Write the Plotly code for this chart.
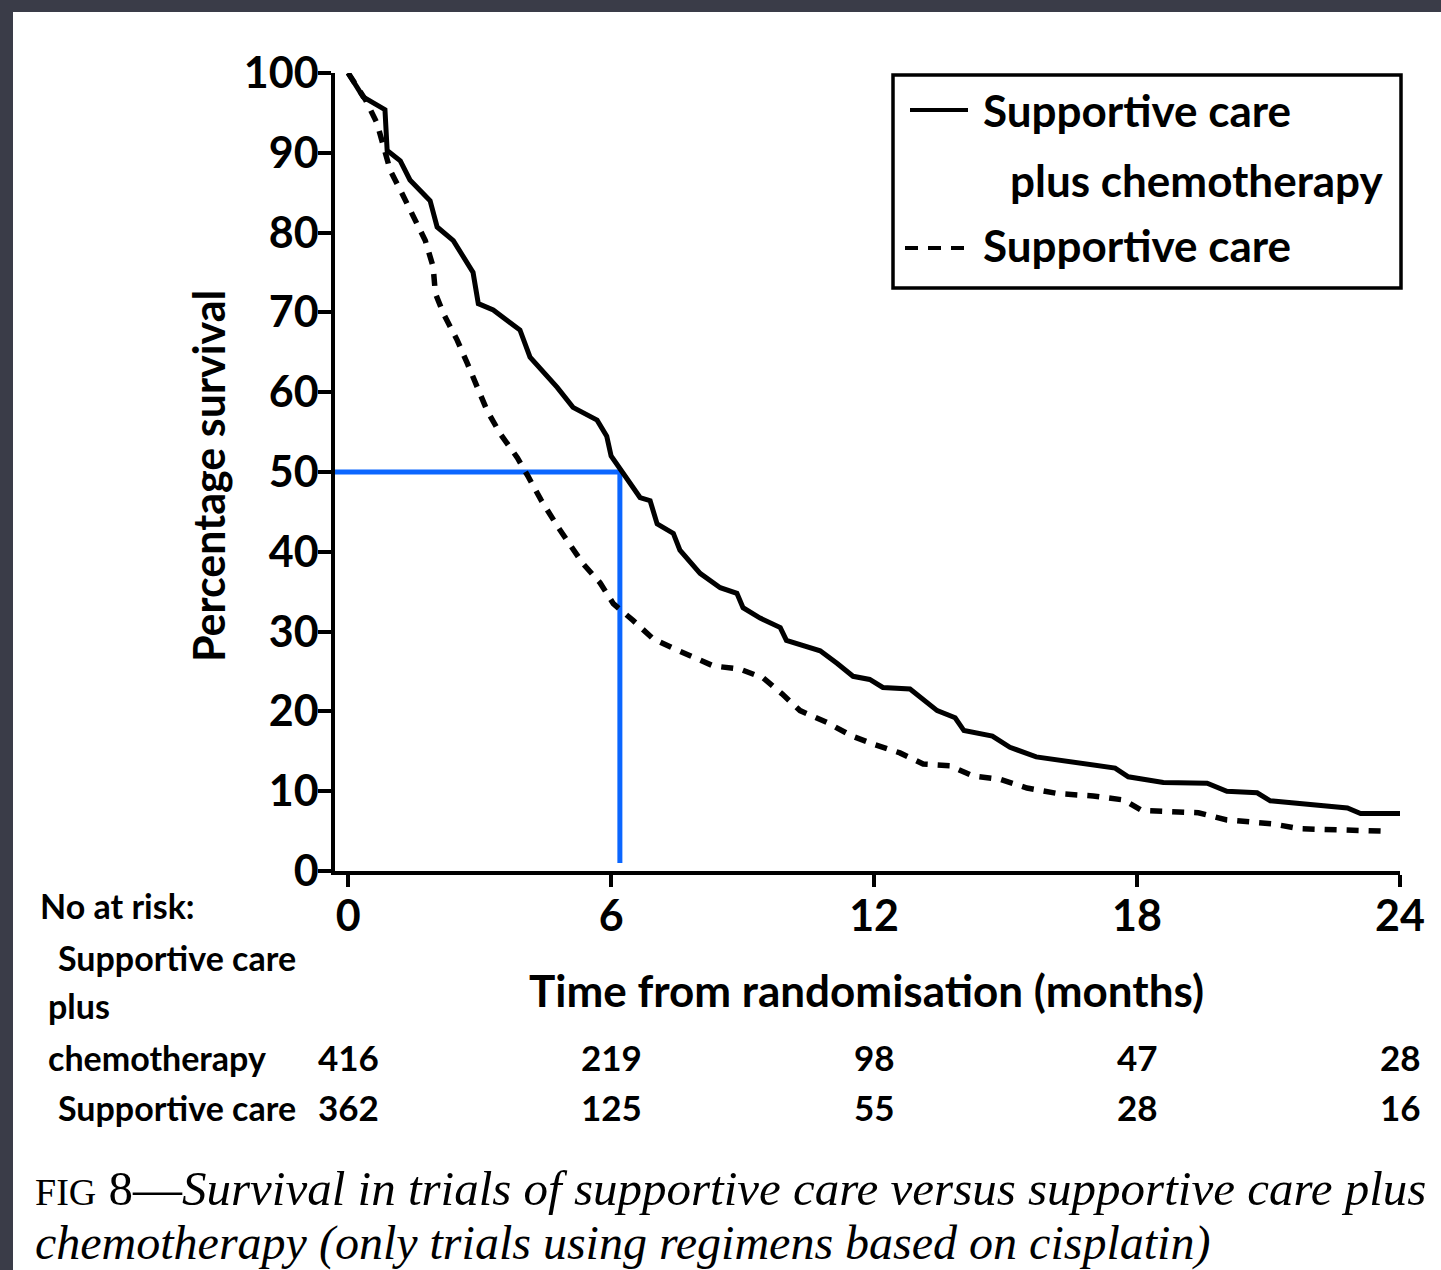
import plotly.graph_objects as go

# Kaplan-Meier survival estimates (months, % surviving)
chemo_months = [0, 0.34, 0.84, 0.89, 1.19, 1.41, 1.87, 2.03, 2.4, 2.85, 2.97, 3.31, 3.92, 4.15,
                4.77, 5.13, 5.68, 5.9, 6.0, 6.28, 6.66, 6.89, 7.05, 7.42, 7.57, 8.03, 8.49, 8.87,
                9.01, 9.4, 9.86, 10.0, 10.77, 11.16, 11.52, 11.9, 12.2, 12.82, 13.44, 13.85, 14.05,
                14.7, 15.1, 15.7, 16.63, 17.5, 17.8, 18.6, 19.6, 20.05, 20.74, 21.04, 22.8, 23.1, 24.0]
chemo_survival = [100, 97, 95.4, 90.3, 89, 86.6, 84, 80.7, 79, 75, 71.1, 70.3, 67.8, 64.4,
                  60.6, 58.1, 56.5, 54.5, 52, 49.8, 46.8, 46.4, 43.5, 42.3, 40.2, 37.3, 35.5, 34.8,
                  33, 31.7, 30.5, 28.9, 27.6, 26, 24.4, 24, 23, 22.8, 20.1, 19.2, 17.6,
                  16.9, 15.5, 14.3, 13.6, 12.9, 11.8, 11.1, 11.0, 10.0, 9.8, 8.8, 7.9, 7.2, 7.2]

care_months = [0, 0.4, 0.66, 0.96, 1.23, 1.49, 1.76, 1.94, 1.99, 2.17, 2.49, 2.72, 2.94, 3.17,
               3.47, 3.86, 4.1, 4.4, 4.8, 5.36, 5.75, 6.05, 6.5, 6.96, 7.42, 7.96, 8.33, 8.94,
               9.47, 9.9, 10.31, 10.93, 11.5, 11.98, 12.59, 13.12, 13.73, 14.26, 14.87, 15.49,
               16.2, 17.0, 17.7, 18.1, 18.75, 19.4, 20.05, 21.1, 21.7, 23.6]
care_survival = [100, 96.6, 93.7, 87.8, 84.9, 81.9, 79, 75.7, 72.4, 69.9, 66.5, 63.6, 60.6, 57.7,
                 54.8, 51.8, 49.5, 46.5, 43, 38.5, 36.1, 33.5, 31.4, 29.1, 27.9, 26.6, 25.7, 25.3,
                 24.2, 22.2, 20.1, 18.6, 16.9, 15.9, 14.8, 13.4, 13.2, 11.9, 11.5, 10.4,
                 9.7, 9.4, 8.9, 7.6, 7.4, 7.3, 6.4, 5.9, 5.3, 5.0]

# Median survival guide (chemotherapy arm)
median_months = [-0.3, 6.2, 6.2]
median_survival = [50, 50, 1]

# Numbers at risk table
risk_months = [0, 6, 12, 18, 24]
risk_chemo = [416, 219, 98, 47, 28]
risk_care = [362, 125, 55, 28, 16]

x_ticks = [0, 6, 12, 18, 24]
y_ticks = [0, 10, 20, 30, 40, 50, 60, 70, 80, 90, 100]

SANS = "Lato, sans-serif"
SERIF = "Liberation Serif, DejaVu Serif, serif"
INK = "black"

# plot-area geometry in pixels
W, H = 1441, 1270
L, R, T, B = 335, 1400, 73, 871


def fx(px):
    return (px - L) / (R - L)


def fy(py):
    return (B - py) / (B - T)


fig = go.Figure()

fig.add_trace(go.Scatter(
    x=median_months, y=median_survival, mode="lines",
    line=dict(color="#0b66ff", width=5), cliponaxis=False,
    showlegend=False, hoverinfo="skip"))

fig.add_trace(go.Scatter(
    x=chemo_months, y=chemo_survival, mode="lines",
    name="Supportive care plus chemotherapy",
    line=dict(color=INK, width=5), showlegend=False, cliponaxis=False))

fig.add_trace(go.Scatter(
    x=care_months, y=care_survival, mode="lines",
    name="Supportive care",
    line=dict(color=INK, width=5.5, dash="12px,10px"), showlegend=False, cliponaxis=False))

shapes = [
    # dark frame along the top and left edges
    dict(type="rect", xref="paper", yref="paper", x0=fx(0), x1=fx(W), y0=fy(12), y1=fy(0),
         fillcolor="#3a3c48", line=dict(width=0), layer="below"),
    dict(type="rect", xref="paper", yref="paper", x0=fx(0), x1=fx(13), y0=fy(H), y1=fy(0),
         fillcolor="#3a3c48", line=dict(width=0), layer="below"),
    # legend box
    dict(type="rect", xref="paper", yref="paper", x0=fx(893), x1=fx(1401), y0=fy(288), y1=fy(75),
         line=dict(color=INK, width=3.5), fillcolor="white"),
    dict(type="line", xref="paper", yref="paper", x0=fx(910), x1=fx(968), y0=fy(110), y1=fy(110),
         line=dict(color=INK, width=4)),
    dict(type="line", xref="paper", yref="paper", x0=fx(905), x1=fx(965), y0=fy(248), y1=fy(248),
         line=dict(color=INK, width=4, dash="13px,10px")),
]

annotations = []


def note(text, px, py, size, xanchor="left", family=SANS, weight=700, **kw):
    annotations.append(dict(text=text, xref="paper", yref="paper", x=fx(px), y=fy(py),
                            xanchor=xanchor, yanchor="middle", showarrow=False,
                            font=dict(family=family, size=size, color=INK, weight=weight), **kw))


# legend text
note("Supportive care", 981, 110, 44)
note("plus chemotherapy", 1008, 180, 44)
note("Supportive care", 981, 245, 44)

# axis titles
note("Percentage survival", 208, 476, 43, xanchor="center", textangle=-90)
note("Time from randomisation (months)", 866, 990, 44, xanchor="center")

# numbers at risk
note("No at risk:", 38, 905, 34)
note("Supportive care", 56, 957, 34)
note("plus", 46, 1005, 34)
note("chemotherapy", 46, 1057, 34)
note("Supportive care", 56, 1107, 34)
for m, a, b in zip(risk_months, risk_chemo, risk_care):
    for val, py in ((a, 1057), (b, 1107)):
        annotations.append(dict(text=str(val), xref="x", yref="paper", x=m, y=fy(py),
                                xanchor="center", yanchor="middle", showarrow=False,
                                font=dict(family=SANS, size=35, color=INK, weight=700)))

# caption
note('<span style="font-size:38px">FIG</span> 8—<i>Survival in trials of supportive care versus supportive care plus</i>',
     33, 1188, 49, family=SERIF, weight=400)
note("<i>chemotherapy (only trials using regimens based on cisplatin)</i>", 33, 1243, 48,
     family=SERIF, weight=400)

tick_font = dict(family=SANS, size=43, color=INK, weight=700)

fig.update_layout(
    width=W, height=H, autosize=False,
    margin=dict(l=L, r=W - R, t=T, b=H - B, pad=0),
    paper_bgcolor="white", plot_bgcolor="white",
    shapes=shapes, annotations=annotations,
    xaxis=dict(range=[-0.3, 24.0], tickvals=x_ticks, ticktext=[str(v) for v in x_ticks],
               showline=True, linecolor=INK, linewidth=4, ticks="outside", ticklen=12,
               tickwidth=4, tickcolor=INK, showgrid=False, zeroline=False,
               ticklabelstandoff=-8, tickfont=tick_font),
    yaxis=dict(range=[0, 100], tickvals=y_ticks, ticktext=[str(v) for v in y_ticks],
               showline=True, linecolor=INK, linewidth=3.5, ticks="outside", ticklen=13,
               tickwidth=3.5, tickcolor=INK, showgrid=False, zeroline=False,
               ticklabelstandoff=-9, tickfont=tick_font),
    showlegend=False,
)

fig.write_html("out.html")
